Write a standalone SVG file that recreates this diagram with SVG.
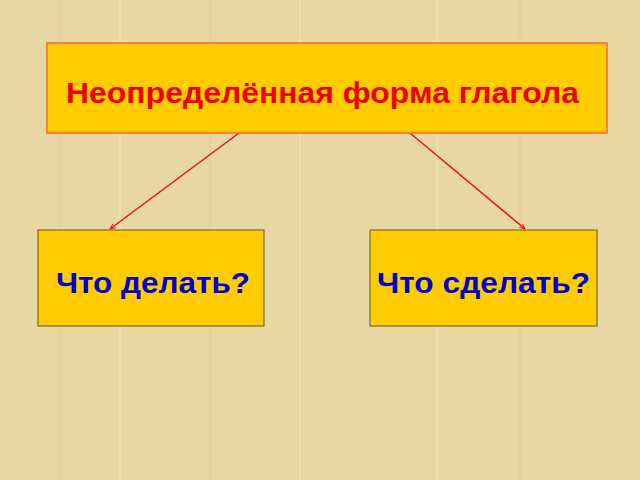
<svg xmlns="http://www.w3.org/2000/svg" width="640" height="480" viewBox="0 0 640 480">
<defs>
<style>
.bg{fill:#E8D6A3}
.tex{stroke:#F3E8C6;stroke-width:1.5;opacity:0.7}
.texd{stroke:#D9C48E;stroke-width:1;opacity:0.5}
.top{fill:#FFCC00;stroke:#FF6633;stroke-width:1.5}
.box{fill:#FFCC00;stroke:#7A6A3A;stroke-width:1.2}
.t1{font-family:"Liberation Sans",Arial,sans-serif;font-weight:bold;font-size:30px;fill:#EE0000}
.t2{font-family:"Liberation Sans",Arial,sans-serif;font-weight:bold;font-size:29px;fill:#0000CC}
.con{stroke:#EE1111;stroke-width:1.5;fill:none}
</style>
<marker id="arr" viewBox="0 0 10 10" refX="9" refY="5" markerWidth="6" markerHeight="6" orient="auto" markerUnits="userSpaceOnUse">
<path d="M0,1 L9,5 L0,9" fill="none" stroke="#EE1111" stroke-width="1.5"/>
</marker>
</defs>
<rect class="bg" x="0" y="0" width="640" height="480"/>
<g id="texture">
<line class="tex" x1="120" y1="0" x2="120" y2="480"/>
<line class="tex" x1="300" y1="0" x2="300" y2="480"/>
<line class="tex" x1="437" y1="0" x2="437" y2="480"/>
<line class="texd" x1="60" y1="0" x2="60" y2="480"/>
<line class="texd" x1="210" y1="0" x2="210" y2="480"/>
<line class="texd" x1="520" y1="0" x2="520" y2="480"/>
</g>
<g id="connectors">
<line class="con" x1="239" y1="133" x2="110" y2="229" marker-end="url(#arr)"/>
<line class="con" x1="410" y1="133" x2="525" y2="229" marker-end="url(#arr)"/>
</g>
<g id="node-top">
<rect class="top" x="47" y="43" width="560" height="90"/>
<text class="t1" x="66" y="103" textLength="513" lengthAdjust="spacingAndGlyphs">Неопределённая форма глагола</text>
</g>
<g id="node-left">
<rect class="box" x="38" y="230" width="226" height="96"/>
<text class="t2" x="56" y="293" textLength="194" lengthAdjust="spacingAndGlyphs">Что делать?</text>
</g>
<g id="node-right">
<rect class="box" x="370" y="230" width="227" height="96"/>
<text class="t2" x="377" y="293" textLength="213" lengthAdjust="spacingAndGlyphs">Что сделать?</text>
</g>
</svg>
